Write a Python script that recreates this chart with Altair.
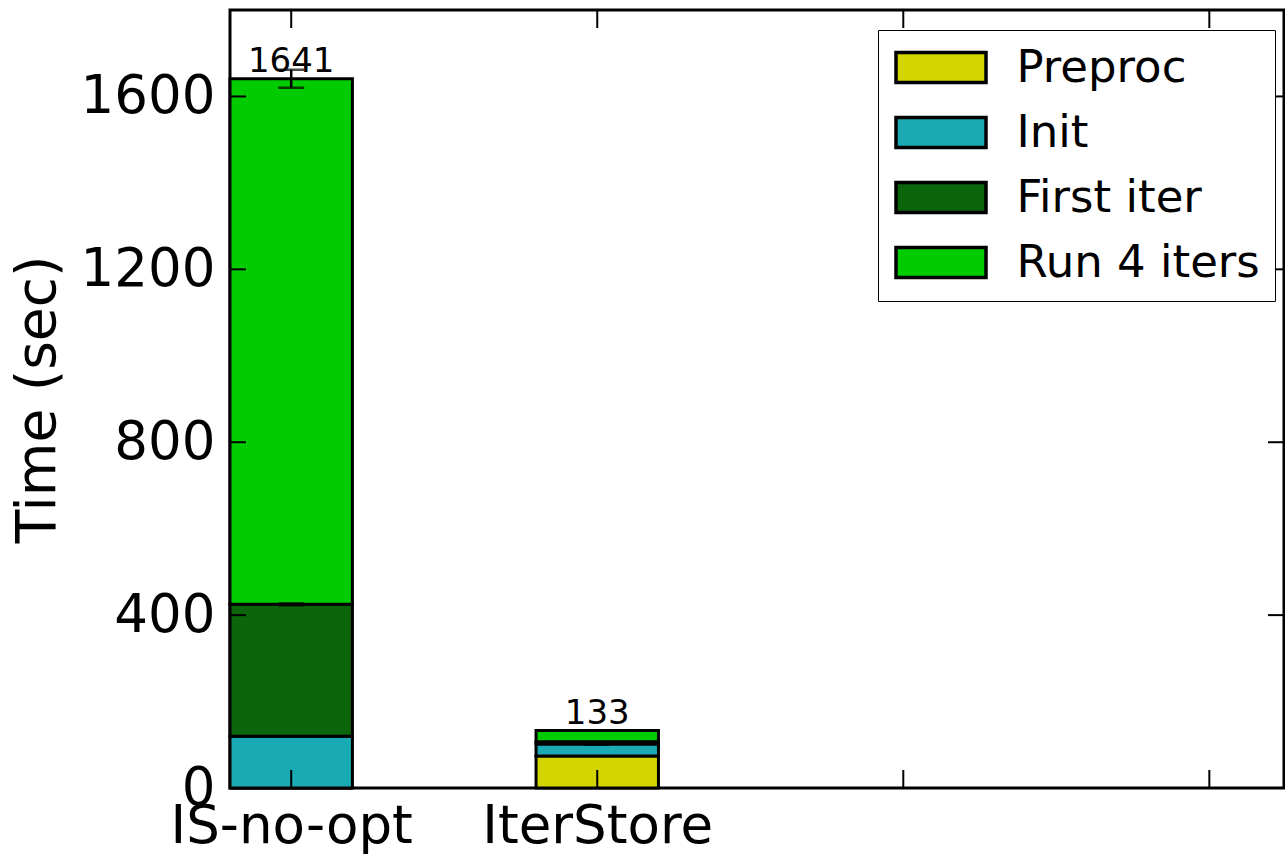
import altair as alt
import pandas as pd

# Systems compared and the per-phase run times (seconds)
SYSTEMS = ["IS-no-opt", "IterStore"]
POSITIONS = [0, 1]
PHASES = ["Preproc", "Init", "First iter", "Run 4 iters"]
PREPROC = [0, 74]
INIT = [120, 28]
FIRST_ITER = [305, 5]
RUN_4_ITERS = [1216, 26]
TOTALS = [1641, 133]

# Error bars: (system index, centre value, half-range)
ERR_SYS = [0, 0, 1]
ERR_MID = [1641, 425, 102]
ERR_HALF = [21, 2, 2]

Y_TICKS = [0, 400, 800, 1200, 1600]
X_TICKS = [0, 1, 2, 3]

COLORS = ["#d4d400", "#1aaab4", "#0b650b", "#00cc00"]

W, H = 1054, 778
BAR_W = 0.4
X_DOMAIN = [-0.2, 3.244]
Y_DOMAIN = [0, 1800]
FONT = "DejaVu Sans"

rows = []
for i, name in enumerate(SYSTEMS):
    base = 0
    for phase, vals in zip(PHASES, [PREPROC, INIT, FIRST_ITER, RUN_4_ITERS]):
        rows.append({"system": name, "pos": POSITIONS[i], "phase": phase,
                     "start": base, "end": base + vals[i]})
        base += vals[i]
bars = pd.DataFrame(rows)

totals = pd.DataFrame({"pos": POSITIONS, "total": TOTALS})
errs = pd.DataFrame({
    "pos": [POSITIONS[s] for s in ERR_SYS],
    "lo": [m - h for m, h in zip(ERR_MID, ERR_HALF)],
    "hi": [m + h for m, h in zip(ERR_MID, ERR_HALF)],
})
yt = pd.DataFrame({"v": Y_TICKS})
xt = pd.DataFrame({"v": X_TICKS})

xs = alt.Scale(domain=X_DOMAIN, nice=False, zero=False)
ys = alt.Scale(domain=Y_DOMAIN, nice=False)

label_expr = " : ".join(
    f"datum.value == {p} ? '{n}'" for p, n in zip(POSITIONS, SYSTEMS)
) + " : ''"

x_axis = alt.Axis(values=POSITIONS, labelExpr=label_expr, title=None,
                  ticks=False, domain=False, grid=False, labelFontSize=53,
                  labelFont=FONT, labelColor="black", labelPadding=12,
                  labelLimit=0, labelOverlap=False)
y_axis = alt.Axis(values=Y_TICKS, format="d", title="Time (sec)", ticks=False,
                  domain=False, grid=False, labelFontSize=53, labelFont=FONT,
                  labelColor="black", labelPadding=15, labelLimit=0,
                  titleFontSize=55, titleFont=FONT, titleFontWeight="normal",
                  titleColor="black", titlePadding=14)

legend = alt.Legend(
    title=None, orient="none", legendX=648, legendY=20,
    symbolType="M-3,-1L3,-1L3,1L-3,1Z", symbolSize=900,
    symbolStrokeColor="black", symbolStrokeWidth=3.5, symbolOffset=25.5,
    symbolOpacity=1,
    labelFontSize=45, labelFont=FONT, labelColor="black", labelOffset=53,
    labelLimit=0, rowPadding=19, padding=15, strokeColor="black",
    fillColor="white",
)

bar_layer = alt.Chart(bars).transform_calculate(
    left=f"datum.pos - {BAR_W / 2}", right=f"datum.pos + {BAR_W / 2}"
).mark_bar(stroke="black", strokeWidth=3, opacity=1).encode(
    x=alt.X("left:Q", scale=xs, axis=x_axis),
    x2="right:Q",
    y=alt.Y("start:Q", scale=ys, axis=y_axis),
    y2="end:Q",
    color=alt.Color("phase:N", scale=alt.Scale(domain=PHASES, range=COLORS),
                    sort=PHASES, legend=legend),
)

err_rule = alt.Chart(errs).mark_rule(color="black", strokeWidth=2.5).encode(
    x=alt.X("pos:Q", scale=xs), y=alt.Y("lo:Q", scale=ys), y2="hi:Q"
)
err_lo = alt.Chart(errs).mark_tick(color="black", thickness=2.5, size=26,
                                   orient="horizontal").encode(
    x=alt.X("pos:Q", scale=xs), y=alt.Y("lo:Q", scale=ys)
)
err_hi = alt.Chart(errs).mark_tick(color="black", thickness=2.5, size=26,
                                   orient="horizontal").encode(
    x=alt.X("pos:Q", scale=xs), y=alt.Y("hi:Q", scale=ys)
)

total_text = alt.Chart(totals).mark_text(
    font=FONT, fontSize=34, baseline="bottom", dy=0, color="black"
).encode(x=alt.X("pos:Q", scale=xs), y=alt.Y("total:Q", scale=ys),
         text="total:Q")

tick_style = dict(color="black", strokeWidth=2)
ytick_left = alt.Chart(yt).mark_rule(**tick_style).encode(
    y=alt.Y("v:Q", scale=ys), x=alt.value(0), x2=alt.value(16))
ytick_right = alt.Chart(yt).mark_rule(**tick_style).encode(
    y=alt.Y("v:Q", scale=ys), x=alt.value(W - 16), x2=alt.value(W))
xtick_bottom = alt.Chart(xt).mark_rule(**tick_style).encode(
    x=alt.X("v:Q", scale=xs), y=alt.value(H - 18), y2=alt.value(H))
xtick_top = alt.Chart(xt).mark_rule(**tick_style).encode(
    x=alt.X("v:Q", scale=xs), y=alt.value(0), y2=alt.value(18))

chart = alt.layer(
    bar_layer, err_rule, err_lo, err_hi, total_text,
    ytick_left, ytick_right, xtick_bottom, xtick_top,
).properties(
    width=W, height=H,
    autosize=alt.AutoSizeParams(type="none"),
    padding={"left": 230, "top": 10, "right": 1, "bottom": 68},
    background="white",
).configure_view(
    stroke="black", strokeWidth=3
)

chart.save("out.html", embed_options={"renderer": "svg", "actions": False})
